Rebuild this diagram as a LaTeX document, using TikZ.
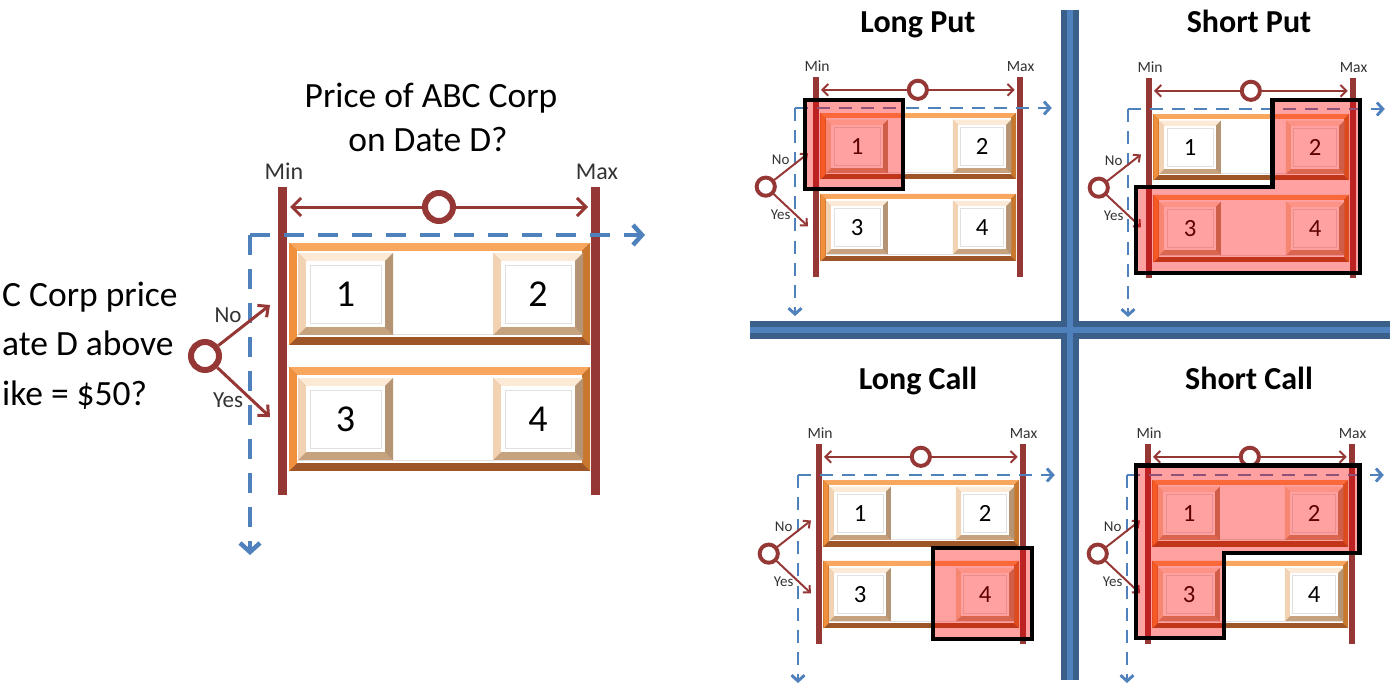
\documentclass[tikz,border=0pt]{standalone}
\usepackage{fontspec}
\setmainfont{Carlito}
\usetikzlibrary{arrows.meta}
\definecolor{dred}{HTML}{953735}
\definecolor{oblue}{HTML}{4F81BD}
\definecolor{dblue}{HTML}{3A5F8B}
\definecolor{otop}{HTML}{F9A75E}
\definecolor{oleft}{HTML}{F0903C}
\definecolor{oright}{HTML}{C8782E}
\definecolor{obot}{HTML}{9E5628}
\definecolor{ctop}{HTML}{FCE9D6}
\definecolor{cleft}{HTML}{F1D3B4}
\definecolor{cright}{HTML}{B49472}
\definecolor{cbot}{HTML}{C6A27E}
\tikzset{
  ringnode/.style={circle, draw=dred, fill=white, minimum size=28pt, inner sep=0pt},
  numlbl/.style={font=\fontsize{38}{42}\selectfont, inner sep=0pt},
  axlbl/.style={font=\fontsize{24}{28}\selectfont, text=black!80, inner sep=0pt, anchor=base},
  ynlbl/.style={font=\fontsize{23}{27}\selectfont, text=black!80, inner sep=0pt, anchor=base},
  bigtxt/.style={font=\fontsize{35.5}{40}\selectfont, inner sep=0pt},
  qtitle/.style={font=\fontsize{32}{36}\selectfont\bfseries, inner sep=0pt, anchor=base},
  hl/.style={fill=red, fill opacity=0.37, draw=black, draw opacity=1, line width=4.5pt, line join=miter},
}
\newcommand\bevelbox[6]{%
  \fill[#6bot] (#1,#2) rectangle (#3,#4);
  \fill[#6top] (#1,#2) -- (#3,#2) -- ({#3-#5},{#2+#5}) -- ({#1+#5},{#2+#5}) -- cycle;
  \fill[#6left] (#1,#2) -- ({#1+#5},{#2+#5}) -- ({#1+#5},{#4-#5}) -- (#1,#4) -- cycle;
  \fill[#6right] (#3,#2) -- ({#3-#5},{#2+#5}) -- ({#3-#5},{#4-#5}) -- (#3,#4) -- cycle;
  \fill[white] ({#1+#5},{#2+#5}) rectangle ({#3-#5},{#4-#5});
}
\newcommand\cellbox[6]{%
  \bevelbox{#1}{#2}{#3}{#4}{8}{c}
  \draw[black!12, line width=0.8pt] ({#1+12},{#2+12}) rectangle ({#3-12},{#4-12});
  \node[numlbl] (#6) at ({(#1+#3)/2},{(#2+#4)/2}) {#5};
}
\newcommand\optdiag[5]{%
\begin{scope}[shift={(#1,#2)}, scale=#3, every node/.append style={scale=#3}]
  \pgfmathsetmacro\s{#3}
  \pgfmathsetmacro\dOn{20*#3}
  \pgfmathsetmacro\dOff{14*#3}
  % rows
  \bevelbox{39}{8}{340}{110}{8}{o}
  \bevelbox{39}{132}{340}{236}{8}{o}
  \draw[black!12, line width=0.8pt] (47,99) -- (332,99);
  \draw[black!12, line width=0.8pt] (47,225) -- (332,225);
  \cellbox{48}{18}{143}{100}{1}{#4c1}
  \cellbox{243}{18}{333}{100}{2}{#4c2}
  \cellbox{48}{143}{143}{225}{3}{#4c3}
  \cellbox{243}{143}{333}{225}{4}{#4c4}
  % min / max bars
  \fill[dred] (28,-48) rectangle (37,260);
  \fill[dred] (341,-48) rectangle (350,260);
  \node[axlbl] (#4min) at (34,-56) {Min};
  \node[axlbl] (#4max) at (347,-56) {Max};
  % double arrow with ring
  \coordinate (#4l) at (40,-28);
  \coordinate (#4r) at (338,-28);
  \draw[dred, line width=3*\s, {Straight Barb[length=9pt,width=18pt,scale=#3]}-{Straight Barb[length=9pt,width=18pt,scale=#3]}] (#4l) -- (#4r);
  \node[ringnode, line width=6*\s] (#4top) at (189,-28) {};
  % blue axes
  \coordinate (#4o) at (0,0);
  \coordinate (#4h) at (395,0);
  \coordinate (#4v) at (0,320);
  \draw[oblue, line width=4.5*\s, dash pattern=on \dOn pt off \dOff pt, -{Straight Barb[length=9pt,width=20pt,scale=#3]}] (#4o) -- (#4h);
  \draw[oblue, line width=4.5*\s, dash pattern=on \dOn pt off \dOff pt, -{Straight Barb[length=9pt,width=20pt,scale=#3]}] (#4o) -- (#4v);
  % question ring with No / Yes
  \node[ringnode, line width=6*\s] (#4q) at (-45,121) {};
  \coordinate (#4n) at (20,70);
  \coordinate (#4y) at (20,182);
  \draw[dred, line width=3*\s, -{Straight Barb[length=8pt,width=15pt,scale=#3]}] (#4q) -- (#4n);
  \draw[dred, line width=3*\s, -{Straight Barb[length=8pt,width=15pt,scale=#3]}] (#4q) -- (#4y);
  \node[ynlbl] (#4no) at (-22,87) {No};
  \node[ynlbl] (#4yes) at (-22,172) {Yes};
  #5
\end{scope}}
\begin{document}
\begin{tikzpicture}[x=1pt, y=-1pt]
\useasboundingbox (0,0) rectangle (1392,690);
\fill[white] (0,0) rectangle (1392,690);
% big left diagram
\node[bigtxt, anchor=base] (t1) at (431,108) {Price of ABC Corp};
\node[bigtxt, anchor=base] (t2) at (428,151) {on Date D?};
\node[bigtxt, anchor=base west] (q1) at (2,306) {C Corp price};
\node[bigtxt, anchor=base west] (q2) at (2,355) {ate D above};
\node[bigtxt, anchor=base west] (q3) at (2,405) {ike = \$50?};
\optdiag{250}{235}{1}{B}{}
% cross
\fill[dblue] (1061,10) rectangle (1079,680);
\fill[dblue] (750,321) rectangle (1390,339);
\fill[oblue] (1067,10) rectangle (1073,680);
\fill[oblue] (750,327) rectangle (1390,333);
% quadrant titles
\node[qtitle] (lp) at (918,33) {Long Put};
\node[qtitle] (sp) at (1249,33) {Short Put};
\node[qtitle] (lc) at (918,389) {Long Call};
\node[qtitle] (sc) at (1249,389) {Short Call};
% quadrants
\optdiag{795}{108}{0.65}{LP}{\filldraw[hl] (15,-12) rectangle (166,125);}
\optdiag{1128}{109}{0.65}{SP}{\filldraw[hl] (222,-14) -- (357,-14) -- (357,252) -- (12,252) -- (12,120) -- (222,120) -- cycle;}
\optdiag{798}{475}{0.65}{LC}{\filldraw[hl] (208,112) rectangle (360,252);}
\optdiag{1127}{475}{0.65}{SC}{\filldraw[hl] (14,-15) -- (358,-15) -- (358,120) -- (149,120) -- (149,251) -- (14,251) -- cycle;}
\end{tikzpicture}
\end{document}
